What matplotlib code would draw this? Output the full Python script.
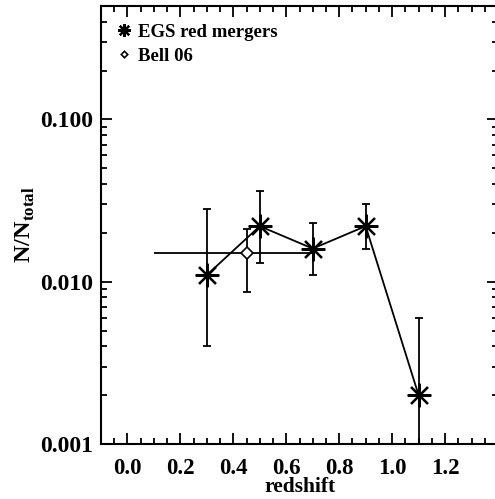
import numpy as np
import matplotlib
matplotlib.use("Agg")
import matplotlib.pyplot as plt
from matplotlib.ticker import MultipleLocator, LogLocator, FixedLocator, NullFormatter

plt.rcParams['font.family'] = 'Liberation Serif'
plt.rcParams['font.weight'] = 'bold'
plt.rcParams['mathtext.fontset'] = 'custom'
plt.rcParams['mathtext.rm'] = 'Liberation Serif:bold'
plt.rcParams['mathtext.bf'] = 'Liberation Serif:bold'

# ---data---------------------------------------------------------------
egs_z = [0.3, 0.5, 0.7, 0.9, 1.1]
egs_frac = [0.011, 0.022, 0.016, 0.022, 0.002]
egs_lo = [0.004, 0.013, 0.011, 0.016, 0.0005]
egs_hi = [0.028, 0.036, 0.023, 0.030, 0.006]

bell_z = [0.45]
bell_frac = [0.015]
bell_zlo = [0.1]
bell_zhi = [0.7]
bell_lo = [0.0087]
bell_hi = [0.021]

ytick_vals = [0.001, 0.010, 0.100]
ytick_labels = ['0.001', '0.010', '0.100']

# ---plot---------------------------------------------------------------
fig = plt.figure(figsize=(4.95, 4.99), dpi=100)
ax = fig.add_axes([101/495, 1-444/499, 397/495, 438/499])

egs_z = np.array(egs_z)
egs_frac = np.array(egs_frac)
yerr = [egs_frac - np.array(egs_lo), np.array(egs_hi) - egs_frac]
ax.errorbar(egs_z, egs_frac, yerr=yerr, fmt='none', ecolor='k',
            elinewidth=1.3, capsize=3, capthick=1.3)
ax.plot(egs_z, egs_frac, '-', color='k', lw=1.3)
ax.plot(egs_z, egs_frac, linestyle='none', marker=(8, 2, 0), ms=17,
        mec='k', mew=1.6, label='EGS red mergers')

bell_z = np.array(bell_z)
bell_frac = np.array(bell_frac)
ax.errorbar(bell_z, bell_frac,
            xerr=[bell_z - np.array(bell_zlo), np.array(bell_zhi) - bell_z],
            fmt='none', ecolor='k', elinewidth=1.3, capsize=0)
ax.errorbar(bell_z, bell_frac,
            yerr=[bell_frac - np.array(bell_lo), np.array(bell_hi) - bell_frac],
            fmt='none', ecolor='k', elinewidth=1.3, capsize=3, capthick=1.3)
ax.plot(bell_z, bell_frac, linestyle='none', marker='D', ms=6, mfc='white',
        mec='k', mew=1.2, label='Bell 06')

ax.set_yscale('log')
ax.set_xlim(-0.1, 1.4)
ax.set_ylim(0.001, 0.5)

ax.xaxis.set_major_locator(MultipleLocator(0.2))
ax.xaxis.set_minor_locator(MultipleLocator(0.05))
ax.yaxis.set_major_locator(FixedLocator(ytick_vals))
ax.set_yticklabels(ytick_labels)
ax.yaxis.set_minor_locator(LogLocator(base=10, subs=np.arange(2, 10)))
ax.yaxis.set_minor_formatter(NullFormatter())
ax.set_xticks([0.0, 0.2, 0.4, 0.6, 0.8, 1.0, 1.2])
ax.set_xticklabels(['0.0', '0.2', '0.4', '0.6', '0.8', '1.0', '1.2'])

ax.tick_params(which='both', direction='in', top=True, right=True, labelsize=17, width=1.3)
ax.tick_params(axis='x', labelsize=16.5)
ax.tick_params(which='major', length=8)
ax.tick_params(axis='x', which='major', pad=10)
ax.tick_params(axis='y', which='major', pad=6)
ax.tick_params(which='minor', length=4)
for s in ax.spines.values():
    s.set_linewidth(1.5)

ax.set_xlabel('redshift', fontsize=15.5, fontweight='bold', labelpad=-1.5)
ax.set_ylabel('N/N$_{\\rm total}$', fontsize=17.5, fontweight='bold', labelpad=2)

ax.legend(loc='upper left', frameon=False, handlelength=0.6, handletextpad=0.4,
          borderaxespad=0.55, labelspacing=0.35, markerscale=0.55,
          prop={'family': 'Liberation Serif', 'weight': 'bold', 'size': 13.5})

fig.savefig('out.png', dpi=100)
